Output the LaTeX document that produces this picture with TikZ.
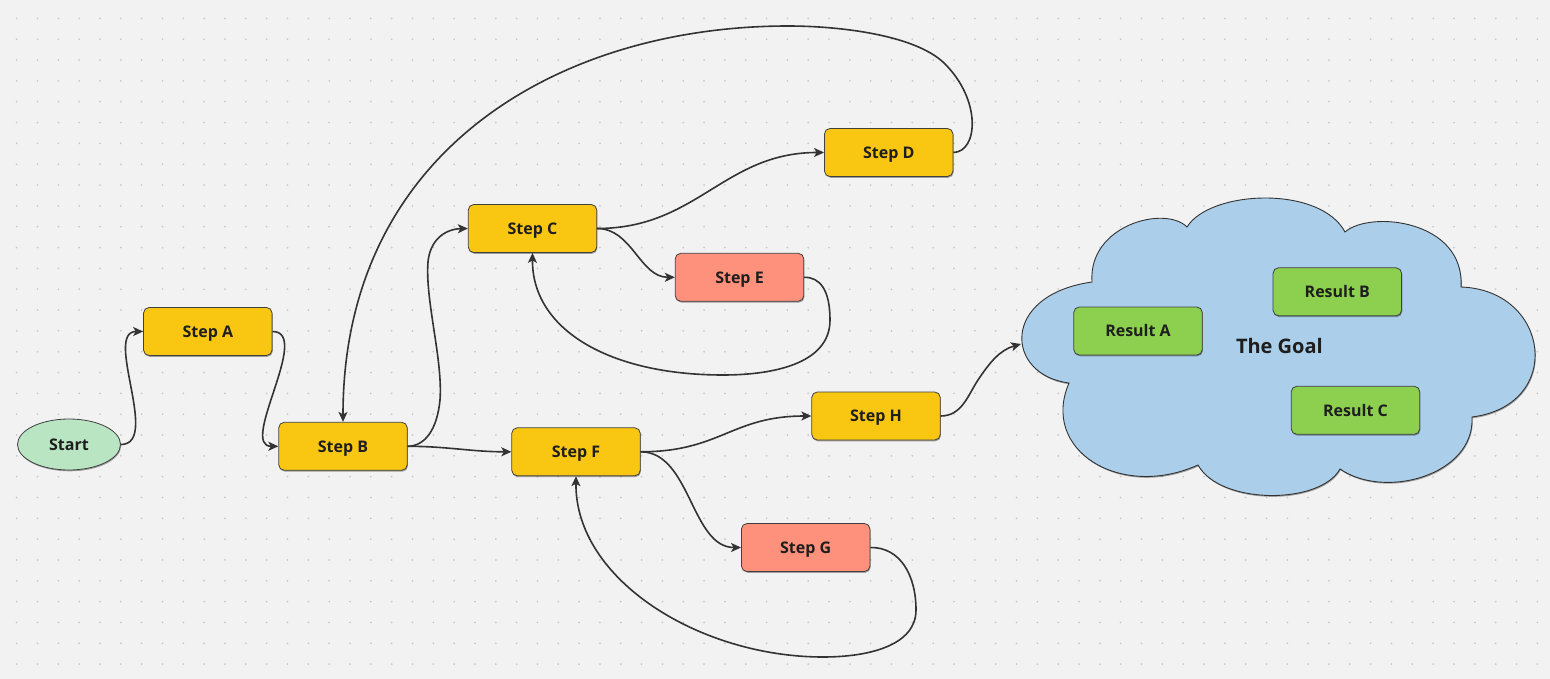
\documentclass[tikz,border=0pt]{standalone}
\usepackage{fontspec}
\setmainfont{Open Sans}
\usetikzlibrary{arrows.meta,shadows,shapes.geometric}
\definecolor{bgc}{HTML}{F2F2F2}
\definecolor{dotc}{HTML}{C9C9C9}
\definecolor{yel}{HTML}{F9C712}
\definecolor{sal}{HTML}{FE917B}
\definecolor{grn}{HTML}{8DD04F}
\definecolor{stc}{HTML}{B9E5C3}
\definecolor{cld}{HTML}{ABCFEA}
\definecolor{edgec}{HTML}{333333}
\definecolor{txtc}{HTML}{1E1E1E}
\tikzset{
  shd/.style={drop shadow={shadow xshift=0.7pt,shadow yshift=-1.3pt,opacity=0.35,fill=black}},
  box/.style={rectangle,rounded corners=5.5pt,draw=black!75,line width=0.8pt,
    minimum width=128.5pt,minimum height=48pt,inner sep=0pt,shd,
    text height=11.6pt,text depth=0pt,
    text=txtc,font=\fontsize{16}{19}\selectfont\bfseries},
  ybox/.style={box,fill=yel},
  sbox/.style={box,fill=sal},
  gbox/.style={box,fill=grn},
  startnode/.style={ellipse,draw=black!75,line width=0.8pt,fill=stc,shd,
    minimum width=103pt,minimum height=51pt,inner sep=0pt,
    text height=11.6pt,text depth=0pt,
    text=txtc,font=\fontsize{16}{19}\selectfont\bfseries},
  conn/.style={draw=edgec,line width=1.6pt,-{Stealth[length=10pt,width=9pt,inset=2.5pt]}},
}
\begin{document}
\begin{tikzpicture}[x=1pt,y=-1pt]
\useasboundingbox (0,0) rectangle (1550,679);
\fill[bgc] (0,0) rectangle (1550,679);
\foreach \i in {0,...,73}{
  \foreach \j in {0,...,31}{
    \fill[dotc] ({16.7+\i*20.83},{18.4+\j*20.83}) circle (1pt);
  }
}
% cloud
\path[fill=cld,draw=black!80,line width=0.9pt,shd]
 (1069,383) .. controls (1005,375) and (1000,295) .. (1092,282)
 .. controls (1088,225) and (1165,205) .. (1187,227)
 .. controls (1210,190) and (1320,185) .. (1345,232)
 .. controls (1370,210) and (1465,220) .. (1461,287)
 .. controls (1550,290) and (1565,405) .. (1472,417)
 .. controls (1475,475) and (1385,500) .. (1340,469)
 .. controls (1320,505) and (1220,505) .. (1198,465)
 .. controls (1120,500) and (1040,450) .. (1069,383) -- cycle;
\node[text=txtc,inner sep=0pt,text height=14.4pt,text depth=0pt,
  font=\fontsize{20}{24}\selectfont\bfseries] (goal) at (1279.4,346.2) {The Goal};
\coordinate (goalin) at (1021,344);

\node[startnode] (start) at (69,444.5) {Start};
\node[ybox] (A) at (207.8,331.5) {Step A};
\node[ybox] (B) at (343,446.3) {Step B};
\node[ybox] (C) at (532.5,228.5) {Step C};
\node[ybox] (D) at (888.7,152.5) {Step D};
\node[sbox] (E) at (739.5,277.3) {Step E};
\node[ybox] (F) at (576,451.8) {Step F};
\node[sbox] (G) at (805.7,547.5) {Step G};
\node[ybox] (H) at (876,416) {Step H};
\node[gbox] (RA) at (1138,331) {Result A};
\node[gbox] (RB) at (1337.3,291.8) {Result B};
\node[gbox] (RC) at (1355.5,410.3) {Result C};

\draw[conn] (start.east) .. controls +(40,0) and +(-40,0) .. (A.west);
\draw[conn] (A.east) .. controls +(40,0) and +(-40,0) .. (B.west);
\draw[conn] (D.east) .. controls (978,152) and (982,100) .. (944,63)
  .. controls (915,35) and (840,26) .. (788,26)
  .. controls (560,26) and (343,150) .. (B.north);
\draw[conn] (B.east) .. controls (425,446) and (437,430) .. (440,400)
  .. controls (443,360) and (425,300) .. (428,262)
  .. controls (430,240) and (445,229) .. (C.west);
\draw[conn] (B.east) .. controls +(40,0) and +(-40,0) .. (F.west);
\draw[conn] (C.east) .. controls +(100,0) and +(-100,0) .. (D.west);
\draw[conn] (C.east) .. controls +(35,0) and +(-35,0) .. (E.west);
\draw[conn] (E.east) .. controls (820,277) and (830,290) .. (830,320)
  .. controls (830,365) and (770,375) .. (723,375)
  .. controls (610,375) and (532,330) .. (C.south);
\draw[conn] (F.east) .. controls +(80,0) and +(-80,0) .. (H.west);
\draw[conn] (F.east) .. controls +(50,0) and +(-50,0) .. (G.west);
\draw[conn] (G.east) .. controls (900,547) and (916,575) .. (916,610)
  .. controls (916,645) and (870,657) .. (823,657)
  .. controls (700,657) and (575,580) .. (F.south);
\draw[conn] (H.east) .. controls (962,416) and (968,395) .. (978,380)
  .. controls (990,362) and (1000,350) .. (goalin);
\end{tikzpicture}
\end{document}
